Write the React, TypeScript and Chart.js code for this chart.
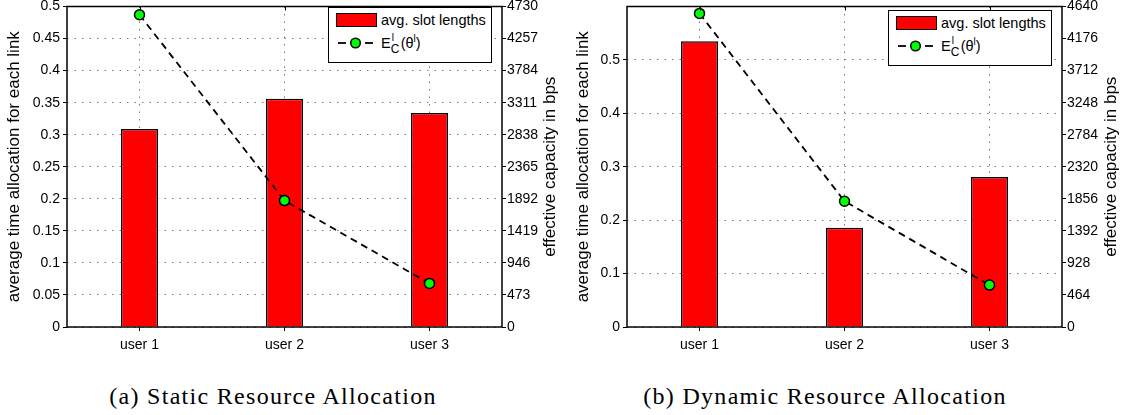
import React, { useEffect, useRef } from 'react';
import { Chart, registerables } from 'chart.js';

Chart.register(...registerables);

// ---------- data ----------
const categories = ['user 1', 'user 2', 'user 3'];

const staticSlotLengths = [0.309, 0.356, 0.334];
const staticCapacity = [4608, 1866, 643];
const dynamicSlotLengths = [0.535, 0.186, 0.281];
const dynamicCapacity = [4540, 1821, 607];

const staticLeftTicks = [0, 0.05, 0.1, 0.15, 0.2, 0.25, 0.3, 0.35, 0.4, 0.45, 0.5];
const staticRightTicks = [0, 473, 946, 1419, 1892, 2365, 2838, 3311, 3784, 4257, 4730];
const dynamicLeftTicks = [0, 0.1, 0.2, 0.3, 0.4, 0.5];
const dynamicRightTicks = [0, 464, 928, 1392, 1856, 2320, 2784, 3248, 3712, 4176, 4640];

const staticLeftMax = 0.5;
const staticRightMax = 4730;
const dynamicLeftMax = 0.6;
const dynamicRightMax = 4640;

const leftAxisTitle = 'average time allocation for each link';
const rightAxisTitle = 'effective capacity in bps';
const barLegendLabel = 'avg. slot lengths';
const captions = ['(a) Static Resource Allocation', '(b) Dynamic Resource Allocation'];

// ---------- styling ----------
const SANS = "'Liberation Sans', Arial, Helvetica, sans-serif";
const SERIF = "'Liberation Serif', 'Times New Roman', serif";
const TICK_FONT = 14;
const TITLE_FONT = 17;
const LEGEND_FONT = 14.5;

const framePlugin = {
  id: 'frame',
  afterDraw(chart: any, _args: any, opts: any) {
    const { ctx, chartArea } = chart;
    const { left, right, top, bottom } = chartArea;
    ctx.save();
    // top ticks at categories (inward)
    const xs = chart.scales.x;
    ctx.strokeStyle = '#000';
    ctx.lineWidth = 1;
    xs.ticks.forEach((_t: any, i: number) => {
      const px = Math.round(xs.getPixelForTick(i)) + 0.5;
      ctx.beginPath();
      ctx.moveTo(px, top);
      ctx.lineTo(px, top + 4);
      ctx.stroke();
    });
    // frame
    ctx.lineWidth = 1.5;
    ctx.strokeStyle = '#000';
    ctx.strokeRect(left, top, right - left, bottom - top);
    // axis titles, both reading bottom-to-top
    ctx.fillStyle = '#000';
    ctx.font = `${TITLE_FONT}px ${SANS}`;
    ctx.textAlign = 'center';
    ctx.textBaseline = 'middle';
    const cy = (top + bottom) / 2;
    [
      [opts.leftTitleX, opts.leftTitle],
      [opts.rightTitleX, opts.rightTitle],
    ].forEach(([x, text]: any) => {
      ctx.save();
      ctx.translate(x, cy);
      ctx.rotate(-Math.PI / 2);
      ctx.fillText(text, 0, 0);
      ctx.restore();
    });
    ctx.restore();
  },
};

type PanelProps = {
  left: number;
  width: number;
  height: number;
  plotLeft: number;
  plotRight: number;
  plotTop: number;
  plotBottom: number;
  bars: number[];
  caps: number[];
  leftTicks: number[];
  rightTicks: number[];
  leftMax: number;
  rightMax: number;
  leftTitleX: number;
  rightTitleX: number;
};

function Panel(p: PanelProps) {
  const ref = useRef<HTMLCanvasElement>(null);
  useEffect(() => {
    if (!ref.current) return;
    const tickFont = { family: SANS, size: TICK_FONT };
    const chart = new Chart(ref.current, {
      type: 'bar',
      data: {
        labels: categories,
        datasets: [
          {
            type: 'line',
            label: 'capacity',
            data: p.caps,
            yAxisID: 'y1',
            order: 0,
            borderColor: '#000',
            borderWidth: 1.8,
            borderDash: [7, 5],
            pointRadius: 5,
            pointBackgroundColor: '#00ff00',
            pointBorderColor: '#000',
            pointBorderWidth: 1.5,
            fill: false,
            tension: 0,
          } as any,
          {
            type: 'bar',
            label: barLegendLabel,
            data: p.bars,
            yAxisID: 'y',
            order: 1,
            backgroundColor: '#ff0000',
            borderColor: '#000',
            borderWidth: 1.5,
            categoryPercentage: 1,
            barPercentage: 0.255,
          } as any,
        ],
      },
      options: {
        responsive: false,
        animation: false,
        maintainAspectRatio: false,
        layout: { padding: { top: p.plotTop, left: 0, right: 0, bottom: 0 } },
        plugins: {
          legend: { display: false },
          tooltip: { enabled: false },
          frame: {
            leftTitle: leftAxisTitle,
            rightTitle: rightAxisTitle,
            leftTitleX: p.leftTitleX,
            rightTitleX: p.rightTitleX,
          },
        } as any,
        scales: {
          x: {
            type: 'category',
            offset: true,
            grid: {
              offset: false,
              color: '#777',
              lineWidth: 1,
              tickLength: 4,
              tickColor: '#000',
              tickWidth: 1,
            },
            border: { display: false, dash: [1.5, 6] },
            ticks: { font: tickFont, color: '#000', padding: 6, maxRotation: 0 },
            afterFit: (s: any) => {
              s.height = p.height - p.plotBottom;
              s.paddingLeft = 0;
              s.paddingRight = 0;
            },
          },
          y: {
            type: 'linear',
            position: 'left',
            min: 0,
            max: p.leftMax,
            afterBuildTicks: (s: any) => {
              s.ticks = p.leftTicks.map((v) => ({ value: v }));
            },
            grid: {
              color: '#777',
              lineWidth: 1,
              tickLength: 4,
              tickColor: '#000',
              tickWidth: 1,
            },
            border: { display: false, dash: [1.5, 6] },
            ticks: {
              font: tickFont,
              color: '#000',
              padding: 3,
              callback: (v: any) => String(+Number(v).toFixed(4)),
            },
            afterFit: (s: any) => {
              s.width = p.plotLeft;
              s.paddingTop = 0;
              s.paddingBottom = 0;
            },
          },
          y1: {
            type: 'linear',
            position: 'right',
            min: 0,
            max: p.rightMax,
            afterBuildTicks: (s: any) => {
              s.ticks = p.rightTicks.map((v) => ({ value: v }));
            },
            grid: {
              drawOnChartArea: false,
              tickLength: 4,
              tickColor: '#000',
              tickWidth: 1,
            },
            border: { display: false },
            ticks: {
              font: tickFont,
              color: '#000',
              padding: 1,
              callback: (v: any) => String(v),
            },
            afterFit: (s: any) => {
              s.width = p.width - p.plotRight;
              s.paddingTop = 0;
              s.paddingBottom = 0;
            },
          },
        },
      } as any,
      plugins: [framePlugin as any],
    });
    return () => chart.destroy();
  }, []);
  return (
    <div style={{ position: 'absolute', left: p.left, top: 0, width: p.width, height: p.height }}>
      <canvas ref={ref} width={p.width} height={p.height} style={{ width: p.width, height: p.height, display: 'block' }} />
    </div>
  );
}

function Legend({ left, top }: { left: number; top: number }) {
  return (
    <div
      style={{
        position: 'absolute',
        left,
        top,
        width: 164,
        height: 56,
        boxSizing: 'border-box',
        border: '1.5px solid #000',
        background: '#fff',
        fontFamily: SANS,
        fontSize: LEGEND_FONT,
        color: '#000',
      }}
    >
      <div style={{ position: 'absolute', left: 7, top: 5, width: 41, height: 14, boxSizing: 'border-box', background: '#ff0000', border: '1.5px solid #000' }} />
      <div style={{ position: 'absolute', left: 52, top: 3, lineHeight: '18px', whiteSpace: 'nowrap' }}>{barLegendLabel}</div>
      <svg style={{ position: 'absolute', left: 7, top: 27 }} width={40} height={16}>
        <line x1={2} y1={8} x2={10} y2={8} stroke="#000" strokeWidth={1.8} />
        <line x1={29} y1={8} x2={37} y2={8} stroke="#000" strokeWidth={1.8} />
        <circle cx={19.5} cy={8} r={4.8} fill="#00ff00" stroke="#000" strokeWidth={1.5} />
      </svg>
      <div style={{ position: 'absolute', left: 52, top: 26, lineHeight: '18px', whiteSpace: 'nowrap' }}>
        <span>E</span>
        <span style={{ position: 'relative', display: 'inline-block', width: 10, height: 14 }}>
          <span style={{ position: 'absolute', left: 1, top: -5, fontSize: 10 }}>l</span>
          <span style={{ position: 'absolute', left: 0, top: 6, fontSize: 12 }}>C</span>
        </span>
        <span>(θ</span>
        <span style={{ position: 'relative', top: -6, fontSize: 10 }}>l</span>
        <span>)</span>
      </div>
    </div>
  );
}

const captionStyle = (cx: number): React.CSSProperties => ({
  position: 'absolute',
  left: cx,
  top: 396,
  transform: 'translate(-50%, -50%)',
  whiteSpace: 'nowrap',
  fontFamily: SERIF,
  fontSize: 24,
  letterSpacing: 1.3,
  color: '#000',
});

export default function App() {
  return (
    <div style={{ position: 'fixed', left: 0, top: 0, width: 1129, height: 415, background: '#fff', overflow: 'hidden' }}>
      <Panel
        left={0}
        width={565}
        height={365}
        plotLeft={67}
        plotRight={502}
        plotTop={5}
        plotBottom={327}
        bars={staticSlotLengths}
        caps={staticCapacity}
        leftTicks={staticLeftTicks}
        rightTicks={staticRightTicks}
        leftMax={staticLeftMax}
        rightMax={staticRightMax}
        leftTitleX={14}
        rightTitleX={550}
      />
      <Panel
        left={565}
        width={564}
        height={365}
        plotLeft={62}
        plotRight={497}
        plotTop={6}
        plotBottom={327}
        bars={dynamicSlotLengths}
        caps={dynamicCapacity}
        leftTicks={dynamicLeftTicks}
        rightTicks={dynamicRightTicks}
        leftMax={dynamicLeftMax}
        rightMax={dynamicRightMax}
        leftTitleX={18}
        rightTitleX={546}
      />
      <Legend left={328} top={7} />
      <Legend left={888} top={10} />
      <div style={captionStyle(273)}>{captions[0]}</div>
      <div style={captionStyle(825)}>{captions[1]}</div>
    </div>
  );
}
